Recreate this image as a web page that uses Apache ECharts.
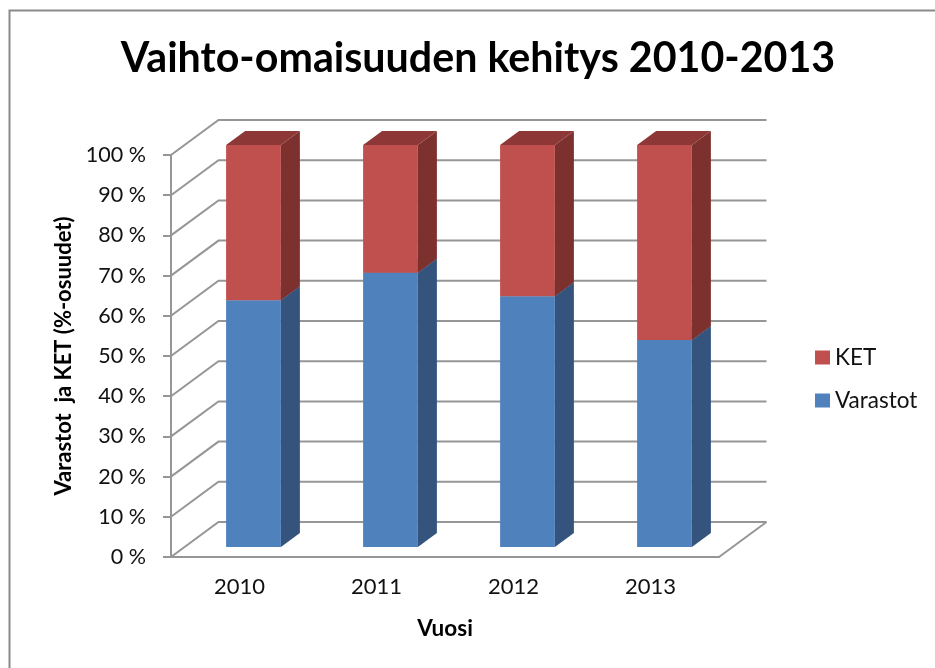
<!DOCTYPE html>
<html>
<head>
<meta charset="utf-8">
<style>
  html, body { margin: 0; padding: 0; background: #fff; }
  #chart { width: 935px; height: 668px; }
</style>
<script src="https://cdn.jsdelivr.net/npm/echarts@6/dist/echarts.min.js"></script>
</head>
<body>
<div id="chart"></div>
<script>
const years = ['2010', '2011', '2012', '2013'];
const varastot = [61.4, 68.2, 62.4, 51.5];
const ket = [38.6, 31.8, 37.6, 48.5];
const yTicks = [0, 10, 20, 30, 40, 50, 60, 70, 80, 90, 100];

const font = 'Lato';
const lineColor = '#969696';

// fake 3d: wall depth and how far bars sit in from the front
const wallDx = 47.5, wallDy = -35;
const barShiftX = 14, barShiftY = -10;
const barDx = 19, barDy = -14;

const renderWall = (params, api) => {
  const band = api.size([1, 0])[0];
  const v = api.value(1);
  const left = api.coord([0, v])[0] - band / 2;
  const right = api.coord([years.length - 1, v])[0] + band / 2;
  const y = api.coord([0, v])[1];
  const style = { stroke: lineColor, lineWidth: 2, fill: null };
  const children = [{
    type: 'polyline',
    shape: { points: [[left, y], [left + wallDx, y + wallDy], [right + wallDx, y + wallDy]] },
    style
  }];
  // floor closes on the right
  if (v === 0) {
    children.push({
      type: 'line',
      shape: { x1: right, y1: y, x2: right + wallDx, y2: y + wallDy },
      style
    });
  }
  return { type: 'group', children };
};

const renderBar = (colors) => (params, api) => {
  const idx = api.value(0);
  const c0 = api.coord([idx, api.value(1)]);
  const c1 = api.coord([idx, api.value(2)]);
  const w = api.size([1, 0])[0] * 0.4;
  const x0 = c0[0] - w / 2 + barShiftX;
  const x1 = x0 + w;
  const yb = c0[1] + barShiftY;
  const yt = c1[1] + barShiftY;
  return {
    type: 'group',
    children: [
      {
        type: 'polygon',
        shape: { points: [[x1, yb], [x1 + barDx, yb + barDy], [x1 + barDx, yt + barDy], [x1, yt]] },
        style: { fill: colors.side }
      },
      {
        type: 'polygon',
        shape: { points: [[x0, yt], [x0 + barDx, yt + barDy], [x1 + barDx, yt + barDy], [x1, yt]] },
        style: { fill: colors.top }
      },
      {
        type: 'rect',
        shape: { x: x0, y: yt, width: w, height: yb - yt },
        style: { fill: colors.front }
      }
    ]
  };
};

const chart = echarts.init(document.getElementById('chart'));

chart.setOption({
  animation: false,
  backgroundColor: '#fff',
  textStyle: { fontFamily: font },
  title: {
    text: 'Vaihto-omaisuuden kehitys 2010-2013',
    left: 473,
    top: 33,
    textAlign: 'center',
    textStyle: { fontFamily: font, fontSize: 41.2, fontWeight: 'bold', color: '#000' }
  },
  legend: {
    left: 815,
    top: 346,
    padding: 0,
    orient: 'vertical',
    itemWidth: 15,
    itemHeight: 14,
    itemGap: 20,
    icon: 'rect',
    data: ['KET', 'Varastot'],
    textStyle: { fontFamily: font, fontSize: 22.5, color: '#111' }
  },
  grid: { left: 171, top: 155, width: 548, height: 402 },
  xAxis: {
    type: 'category',
    data: years,
    name: 'Vuosi',
    nameLocation: 'middle',
    nameGap: 60,
    nameTextStyle: { fontFamily: font, fontSize: 22.5, fontWeight: 'bold', color: '#000' },
    axisLine: { lineStyle: { color: lineColor, width: 2 } },
    axisTick: { length: 8, lineStyle: { color: lineColor, width: 2 } },
    axisLabel: { fontFamily: font, fontSize: 22, color: '#111', margin: 19, interval: 0 }
  },
  yAxis: {
    type: 'value',
    min: 0,
    max: 100,
    interval: 10,
    name: 'Varastot  ja KET (%-osuudet)',
    nameLocation: 'middle',
    nameGap: 96,
    nameTextStyle: { fontFamily: font, fontSize: 22, fontWeight: 'bold', color: '#000' },
    axisLine: { show: true, lineStyle: { color: lineColor, width: 2 } },
    axisTick: { show: true, length: 8, lineStyle: { color: lineColor, width: 2 } },
    axisLabel: { fontFamily: font, fontSize: 21.5, color: '#111', margin: 25, formatter: '{value} %' },
    splitLine: { show: false }
  },
  graphic: [{
    type: 'polyline',
    shape: { points: [[9.5, 668], [9.5, 10.5], [935, 10.5]] },
    style: { stroke: '#8a8a8a', lineWidth: 2, fill: null },
    silent: true
  }],
  series: [
    {
      type: 'custom',
      name: 'wall',
      silent: true,
      z: 1,
      encode: { x: 0, y: 1 },
      data: yTicks.map((v) => [0, v]),
      renderItem: renderWall
    },
    {
      type: 'custom',
      name: 'Varastot',
      z: 2,
      itemStyle: { color: '#4F81BD' },
      encode: { x: 0, y: [1, 2] },
      data: years.map((y, i) => [i, 0, varastot[i]]),
      renderItem: renderBar({ front: '#4F81BD', side: '#34547E', top: '#3F6797' })
    },
    {
      type: 'custom',
      name: 'KET',
      z: 3,
      itemStyle: { color: '#C0504D' },
      encode: { x: 0, y: [1, 2] },
      data: years.map((y, i) => [i, varastot[i], varastot[i] + ket[i]]),
      renderItem: renderBar({ front: '#C0504D', side: '#7D312F', top: '#8D3836' })
    }
  ]
});

window.addEventListener('resize', () => chart.resize());
</script>
</body>
</html>
